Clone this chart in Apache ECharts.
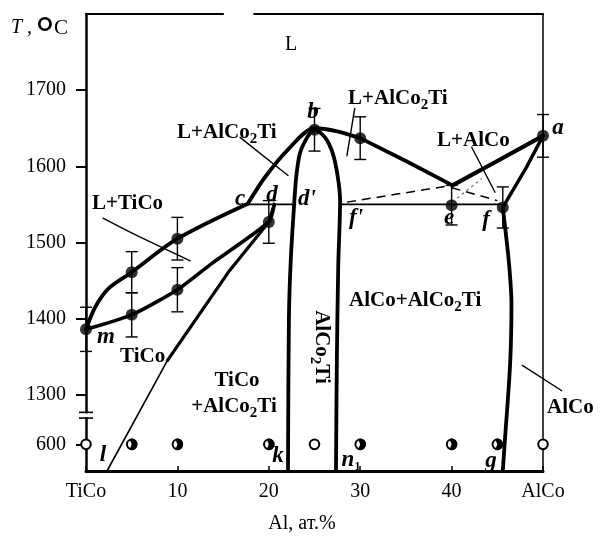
<!DOCTYPE html>
<html><head><meta charset="utf-8">
<script src="https://cdn.jsdelivr.net/npm/echarts@6/dist/echarts.min.js"></script>
<style>html,body{margin:0;padding:0;background:#fff}#c{width:600px;height:538px}</style>
</head><body><div id="c"></div>
<script>
// ---------- axis ----------
const xTickLabels = {0:'TiCo',10:'10',20:'20',30:'30',40:'40',50:'AlCo'};
const yTickT = [600, 1300, 1400, 1500, 1600, 1700];

// ---------- measured points (x at.% Al, T °C, error) ----------
const ptX   = [0,    5,    5,    10,   10,   20,   25,   30,   40,   45.6, 50];
const ptT   = [1386, 1461, 1405, 1505, 1438, 1527, 1648, 1637, 1549, 1546, 1640];
const ptErr = [29,   27,   29,   28,   29,   28,   28,   28,   26,   27,   28];

// ---------- samples annealed at 600 °C ----------
const sampleX = [0, 5, 10, 20, 25, 30, 40, 45, 50];
const sampleFilled = [0, 1, 1, 1, 0, 1, 1, 1, 0];
const sampleT = 600;

// ---------- phase boundaries [x, T] ----------
const liqLeft   = [[0,1386],[1,1415],[2.5,1440],[5,1461],[10,1505],[17.7,1551]];
const liqCB     = [[17.7,1551],[19.6,1586],[22.1,1622],[25,1650],[27.5,1646],[30,1637]];
const liqBE     = [[30,1637],[35,1607],[40.1,1575]];
const liqA      = [[40.1,1575],[45,1607],[50,1640]];
const solidusL  = [[0,1386],[5,1405],[10,1438],[13.6,1471],[20,1527],[20.6,1550]];
const solvusThin= [[2.3,500],[8.9,1345]];
const solvusThk = [[8.9,1345],[15.7,1463],[20,1527],[20.6,1550]];
const heuslerL  = [[25,1650],[24.2,1638],[23.4,1617],[23.0,1586],[22.8,1555],[22.4,1476],[22.2,1400],[22.1,500]];
const heuslerR  = [[25,1650],[26.15,1638],[27.0,1617],[27.55,1586],[27.8,1555],[27.6,1470],[27.45,1350],[27.35,500]];
const alcoSolid = [[50,1640],[48.2,1599],[45.6,1546]];
const alcoSolv  = [[45.6,1546],[45.9,1515],[46.3,1470],[46.55,1420],[46.4,1340],[45.8,600],[45.6,500]];
const isoLeft   = [[17.7,1550],[22.9,1550]];
const isoRight  = [[27.8,1550],[45.6,1550]];
const dashA     = [[28.55,1553],[40.0,1575]];
const dashB     = [[40.0,1572],[45.0,1555]];
const dashC     = [[40.6,1558],[43.3,1584]];
// leader lines of labels
const leadLAlCo2TiL = [[16.85,1638],[22.1,1588]];
const leadLAlCo2TiR = [[29.4,1676],[28.55,1614]];
const leadLAlCo     = [[42.2,1625],[44.75,1566]];
const leadLTiCo     = [[1.86,1532],[5.1,1512],[11.4,1476]];
const leadAlCo      = [[47.7,1339],[52.1,1305]];
// frame
const frameTop1 = [[0,1800],[15.0,1800]];
const frameTop2 = [[18.4,1800],[50,1800]];
const frameRight = [[50,500],[50,1800]];

// ---------- broken axis transform ----------
function ty(T){ return T >= 1270 ? T : 1235 + (T - 600) * 0.35; }

const FONT = '"Liberation Serif","Times New Roman",serif';
const BLACK = '#000';

function ls(pts, width, extra){
  return Object.assign({
    type:'line', data: pts.map(p => [p[0], ty(p[1])]), symbol:'none', silent:true, clip:false,
    animation:false, z:3, lineStyle:{color:BLACK, width:width, cap:'round', join:'round'}
  }, extra || {});
}

const series = [
  ls(frameTop1, 2), ls(frameTop2, 2), ls(frameRight, 1.5),
  ls(liqLeft, 3.8, {smooth:0.3}),
  ls(liqCB, 3.8, {smooth:0.3}),
  ls(liqBE, 3.8),
  ls(liqA, 4.2),
  ls(solidusL, 3.6, {smooth:0.2}),
  ls(solvusThin, 1.6),
  ls(solvusThk, 3.2),
  ls(heuslerL, 3.8, {smooth:0.3}),
  ls(heuslerR, 3.8, {smooth:0.3}),
  ls(alcoSolid, 3.4),
  ls(alcoSolv, 3.8, {smooth:0.3}),
  ls(isoLeft, 1.8), ls(isoRight, 1.8),
  ls(dashA, 1.5, {lineStyle:{color:BLACK,width:1.5,type:[9,6]}}),
  ls(dashB, 1.5, {lineStyle:{color:BLACK,width:1.5,type:[9,6]}}),
  ls(dashC, 1.2, {lineStyle:{color:'#777',width:1.2,type:[3,3]}}),
  ls(leadLAlCo2TiL, 1.4), ls(leadLAlCo2TiR, 1.4), ls(leadLAlCo, 1.4),
  ls(leadLTiCo, 1.4, {smooth:0.3}),
  {
    type:'custom', silent:true, animation:false, z:4, clip:false,
    data: ptX.map((x,i) => [x, ty(ptT[i]), ty(ptT[i]+ptErr[i]), ty(ptT[i]-ptErr[i])]),
    encode:{x:0, y:1},
    renderItem(params, api){
      const x = api.value(0);
      const top = api.coord([x, api.value(2)]);
      const bot = api.coord([x, api.value(3)]);
      const w = 6, st = {stroke:BLACK, lineWidth:1.4};
      return {type:'group', children:[
        {type:'line', shape:{x1:top[0],y1:top[1],x2:bot[0],y2:bot[1]}, style:st},
        {type:'line', shape:{x1:top[0]-w,y1:top[1],x2:top[0]+w,y2:top[1]}, style:st},
        {type:'line', shape:{x1:bot[0]-w,y1:bot[1],x2:bot[0]+w,y2:bot[1]}, style:st}
      ]};
    }
  },
  {
    type:'scatter', silent:true, animation:false, z:5, symbol:'circle', symbolSize:12,
    itemStyle:{color:BLACK}, data: ptX.map((x,i) => [x, ty(ptT[i])])
  },
  {
    type:'custom', silent:true, animation:false, z:5, clip:false,
    data: sampleX.map((x,i) => [x, ty(sampleT), sampleFilled[i]]),
    encode:{x:0, y:1},
    renderItem(params, api){
      const c = api.coord([api.value(0), api.value(1)]);
      const r = 4.8;
      const ch = [{type:'circle', shape:{cx:c[0],cy:c[1],r:r}, style:{fill:'#fff', stroke:BLACK, lineWidth:2}}];
      if (api.value(2)) ch.push({type:'sector', shape:{cx:c[0],cy:c[1],r0:0,r:r+1,startAngle:-Math.PI*0.62,endAngle:Math.PI*0.62,clockwise:true}, style:{fill:BLACK}});
      return {type:'group', children:ch};
    }
  }
];

const option = {
  animation:false,
  backgroundColor:'#fff',
  grid:{left:86, right:57, top:14, bottom:67, outerBoundsMode:'none'},
  xAxis:{
    type:'value', min:0, max:50, interval:10,
    axisLine:{show:true, onZero:false, lineStyle:{color:BLACK, width:3}},
    axisTick:{show:true, inside:true, length:5, lineStyle:{color:BLACK, width:1.5}},
    axisLabel:{color:BLACK, fontFamily:FONT, fontSize:20, margin:11, formatter: v => xTickLabels[v] || ''},
    splitLine:{show:false}
  },
  yAxis:{
    type:'value', min:1200, max:1800,
    axisLine:{show:true, onZero:false, lineStyle:{color:BLACK, width:2.5}},
    axisTick:{show:true, inside:false, length:10, customValues: yTickT.map(ty), lineStyle:{color:BLACK, width:2}},
    axisLabel:{color:BLACK, fontFamily:FONT, fontSize:20, margin:20, customValues: yTickT.map(ty),
      formatter: v => (Math.abs(v - ty(600)) < 0.5 ? '600' : String(Math.round(v)))},
    splitLine:{show:false}
  },
  series: series
};

const chart = echarts.init(document.getElementById('c'), null, {renderer:'canvas'});
chart.setOption(option);

// ---------- annotations ----------
const sub = {fontFamily:FONT, fontWeight:'bold', fontSize:15, verticalAlign:'bottom'};
const main = {fontFamily:FONT, fontWeight:'bold', fontSize:21, lineHeight:27};
function rt(text, x, y, align, extra){
  return Object.assign({type:'text', x:x, y:y, z:50, silent:true,
    style:{text:text, align:align||'left', verticalAlign:'middle', rich:{a:main, s:sub}, fill:BLACK}}, extra||{});
}
function it(text, x, y){
  return {type:'text', x:x, y:y, z:50, silent:true,
    style:{text:text, align:'center', verticalAlign:'middle', fill:BLACK,
      rich:{a:{fontFamily:FONT, fontStyle:'italic', fontWeight:'bold', fontSize:23, lineHeight:26},
            s:{fontFamily:FONT, fontWeight:'bold', fontSize:12, verticalAlign:'bottom'}}}};
}

const px = p => chart.convertToPixel({gridIndex:0}, [p[0], ty(p[1])]);
const brkTop = chart.convertToPixel({gridIndex:0}, [0, 1277]);
const brkBot = chart.convertToPixel({gridIndex:0}, [0, 1269.5]);
const la0 = px(leadAlCo[0]), la1 = px(leadAlCo[1]);
const graphics = [
  {type:'rect', z:40, silent:true, shape:{x:brkTop[0]-3, y:brkTop[1]+1, width:6, height:brkBot[1]-brkTop[1]-2}, style:{fill:'#fff'}},
  {type:'line', z:41, silent:true, shape:{x1:brkTop[0]-7,y1:brkTop[1],x2:brkTop[0]+7,y2:brkTop[1]}, style:{stroke:BLACK, lineWidth:1.6}},
  {type:'line', z:41, silent:true, shape:{x1:brkBot[0]-7,y1:brkBot[1],x2:brkBot[0]+7,y2:brkBot[1]}, style:{stroke:BLACK, lineWidth:1.6}},
  {type:'line', z:41, silent:true, shape:{x1:la0[0],y1:la0[1],x2:la1[0],y2:la1[1]}, style:{stroke:BLACK, lineWidth:1.4}},

  {type:'text', x:11, y:28, z:50, silent:true, style:{text:'T ,', align:'left', verticalAlign:'middle', fontFamily:FONT, fontStyle:'italic', fontSize:20, fill:BLACK}},
  {type:'text', x:45, y:36, z:50, silent:true, style:{text:'°', align:'center', verticalAlign:'middle', fontFamily:FONT, fontWeight:'bold', fontSize:46, fill:BLACK}},
  {type:'text', x:54, y:28, z:50, silent:true, style:{text:'C', align:'left', verticalAlign:'middle', fontFamily:FONT, fontSize:21, fill:BLACK}},
  {type:'text', x:291, y:45, z:50, silent:true, style:{text:'L', align:'center', verticalAlign:'middle', fontFamily:FONT, fontSize:20, fill:BLACK}},

  rt('{a|L+AlCo}{s|2}{a|Ti}', 177, 133),
  rt('{a|L+AlCo}{s|2}{a|Ti}', 348, 99),
  rt('{a|L+AlCo}', 437, 141),
  rt('{a|L+TiCo}', 92, 204),
  rt('{a|TiCo}', 120, 357),
  rt('{a|TiCo}', 237, 381, 'center'),
  rt('{a|+AlCo}{s|2}{a|Ti}', 234, 407, 'center'),
  rt('{a|AlCo+AlCo}{s|2}{a|Ti}', 349, 301),
  rt('{a|AlCo}', 547, 408),
  rt('{a|AlCo}{s|2}{a|Ti}', 321, 347, 'center', {rotation:-Math.PI/2}),

  it('{a|b}', 313, 112), it('{a|a}', 558, 128), it('{a|c}', 240, 199), it('{a|d}', 272, 195),
  it("{a|d'}", 307, 199), it("{a|f'}", 356, 218), it('{a|e}', 449, 218), it('{a|f}', 486, 220),
  it('{a|m}', 106, 337), it('{a|l}', 103, 455), it('{a|k}', 278, 456), it('{a|n}{s|1}', 351, 460), it('{a|g}', 491, 461),

  {type:'text', x:302, y:524, z:50, silent:true, style:{text:'Al, ат.%', align:'center', verticalAlign:'middle', fontFamily:FONT, fontSize:20, fill:BLACK}}
];
chart.setOption({graphic: graphics});
</script>
</body></html>
